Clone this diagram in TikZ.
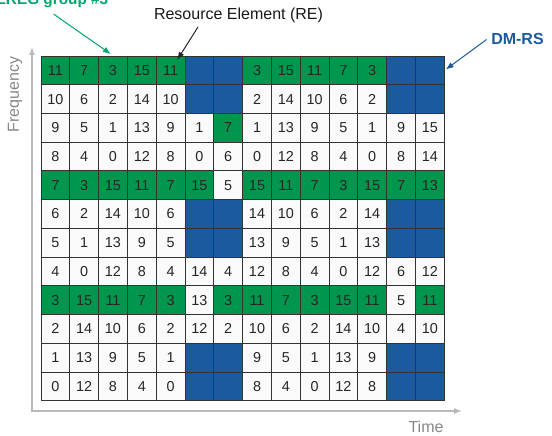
\documentclass[tikz,border=0pt]{standalone}
\usepackage{fontspec}
\setmainfont{Liberation Sans}
\usetikzlibrary{arrows.meta}

\definecolor{eregGreen}{RGB}{0,150,78}
\definecolor{labelGreen}{RGB}{0,166,106}
\definecolor{dmrsBlue}{RGB}{28,90,160}
\definecolor{axisGray}{RGB}{185,185,185}
\definecolor{textGray}{RGB}{135,135,135}

\tikzset{
  recell/.style={draw=black!80, line width=0.6pt, minimum width=21.6pt,
    minimum height=21.54pt, inner sep=0pt, text=black!85,
    font=\fontsize{10.8}{12}\selectfont},
  grn/.style={recell, fill=eregGreen},
  wht/.style={recell, fill=gray!4},
  blu/.style={recell, fill=dmrsBlue},
  axis/.style={axisGray, line width=1pt,
    {Latex[length=6pt,width=4.5pt]}-{Latex[length=6pt,width=4.5pt]}},
  pointer/.style={line width=0.75pt, -{Latex[length=6pt,width=4.5pt]}},
}

\begin{document}
\begin{tikzpicture}[x=0.75pt, y=-0.75pt]
    % --- 画布与参数 ---
    \clip (0,0) rectangle (552,435);
    \def\xO{41}        % 网格左边
    \def\yO{56}        % 网格上边
    \def\cellW{28.8}   % RE 宽度
    \def\cellH{28.72}  % RE 高度

    % --- 坐标轴 (时间 / 频率) ---
    \coordinate (ytip) at (32,47);
    \coordinate (xtip) at (462,411);
    \draw[axis] (ytip) |- (xtip);
    \node[rotate=90, text=textGray, font=\fontsize{12}{14}\selectfont] (freq) at (15,94.5) {Frequency};
    \node[text=textGray, font=\fontsize{12}{14}\selectfont] (time) at (426,427) {Time};

    % --- 资源网格: 每行 14 个 RE ---
    % grn = EREG 组, blu = DM-RS, wht = 普通 RE
    \foreach \r/\cells in {
      0/{grn/11,grn/7,grn/3,grn/15,grn/11,blu/{},blu/{},grn/3,grn/15,grn/11,grn/7,grn/3,blu/{},blu/{}},
      1/{wht/10,wht/6,wht/2,wht/14,wht/10,blu/{},blu/{},wht/2,wht/14,wht/10,wht/6,wht/2,blu/{},blu/{}},
      2/{wht/9,wht/5,wht/1,wht/13,wht/9,wht/1,grn/7,wht/1,wht/13,wht/9,wht/5,wht/1,wht/9,wht/15},
      3/{wht/8,wht/4,wht/0,wht/12,wht/8,wht/0,wht/6,wht/0,wht/12,wht/8,wht/4,wht/0,wht/8,wht/14},
      4/{grn/7,grn/3,grn/15,grn/11,grn/7,grn/15,wht/5,grn/15,grn/11,grn/7,grn/3,grn/15,grn/7,grn/13},
      5/{wht/6,wht/2,wht/14,wht/10,wht/6,blu/{},blu/{},wht/14,wht/10,wht/6,wht/2,wht/14,blu/{},blu/{}},
      6/{wht/5,wht/1,wht/13,wht/9,wht/5,blu/{},blu/{},wht/13,wht/9,wht/5,wht/1,wht/13,blu/{},blu/{}},
      7/{wht/4,wht/0,wht/12,wht/8,wht/4,wht/14,wht/4,wht/12,wht/8,wht/4,wht/0,wht/12,wht/6,wht/12},
      8/{grn/3,grn/15,grn/11,grn/7,grn/3,wht/13,grn/3,grn/11,grn/7,grn/3,grn/15,grn/11,wht/5,grn/11},
      9/{wht/2,wht/14,wht/10,wht/6,wht/2,wht/12,wht/2,wht/10,wht/6,wht/2,wht/14,wht/10,wht/4,wht/10},
      10/{wht/1,wht/13,wht/9,wht/5,wht/1,blu/{},blu/{},wht/9,wht/5,wht/1,wht/13,wht/9,blu/{},blu/{}},
      11/{wht/0,wht/12,wht/8,wht/4,wht/0,blu/{},blu/{},wht/8,wht/4,wht/0,wht/12,wht/8,blu/{},blu/{}}}{
      \foreach \f/\v [count=\c from 0] in \cells {
        \node[\f] (c-\r-\c) at ({\xO+(\c+0.5)*\cellW}, {\yO+(\r+0.5)*\cellH}) {\v};
      }
    }

    % --- 标注 ---
    \node[anchor=base, text=labelGreen, font=\bfseries\fontsize{11.5}{13}\selectfont] (ereg) at (52,5) {EREG group \#3};
    \node[anchor=base, text=black!90, font=\fontsize{12}{14}\selectfont] (re) at (238.5,20) {Resource Element (RE)};
    \node[anchor=base, text=dmrsBlue, font=\bfseries\fontsize{12}{14}\selectfont] (dmrs) at (517.5,45) {DM-RS};

    % 箭头指向对应的 RE
    \coordinate (re-tail) at (198,27);
    \draw[pointer, labelGreen, shorten <=1.5pt, shorten >=2pt] (ereg.south) -- (c-0-2.north);
    \draw[pointer, black!85, shorten >=9.2pt] (re-tail) -- (c-0-4.center);
    \draw[pointer, dmrsBlue, shorten >=1pt] (dmrs.west) -- (c-0-13.east);

\end{tikzpicture}
\end{document}
